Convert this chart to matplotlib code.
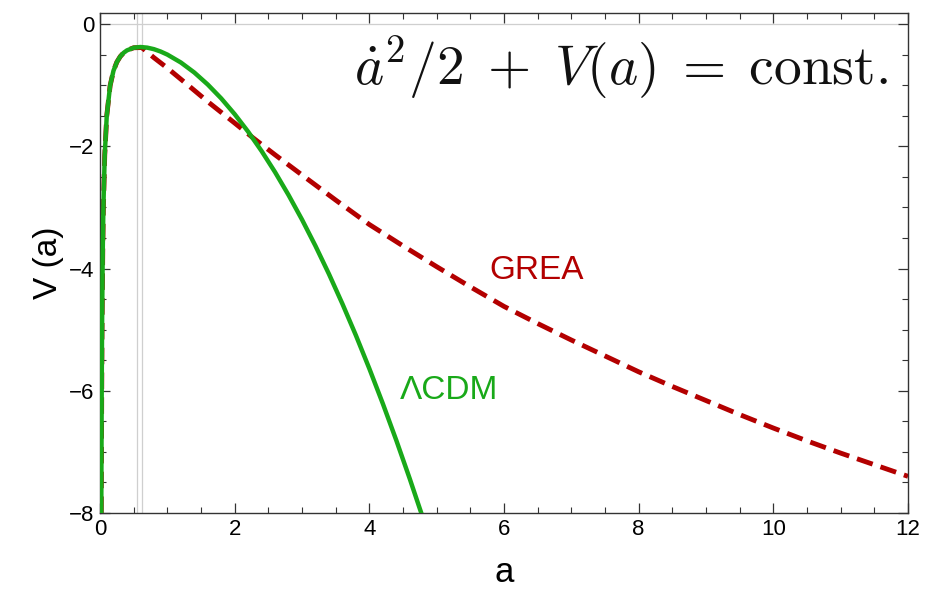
import numpy as np
import matplotlib
matplotlib.use("Agg")
import matplotlib.pyplot as plt
from matplotlib.ticker import MultipleLocator

plt.rcParams['font.family'] = ['Liberation Sans', 'DejaVu Sans']
plt.rcParams['mathtext.fontset'] = 'cm'

# potential V(a) for the two models
a_lcdm = [0.0188, 0.02, 0.025, 0.03, 0.04, 0.05, 0.07, 0.1, 0.15, 0.2, 0.25, 0.3,
          0.35, 0.4, 0.5, 0.6, 0.7, 0.8, 0.9, 1.0, 1.2, 1.4, 1.6, 1.8, 2.0, 2.2,
          2.4, 2.6, 2.8, 3.0, 3.2, 3.4, 3.6, 3.8, 4.0, 4.2, 4.4, 4.6, 4.8]
v_lcdm = [-8.0, -7.5, -6.0, -5.0, -3.75, -3.0, -2.145, -1.50, -1.008, -0.764,
          -0.622, -0.532, -0.471, -0.431, -0.388, -0.376, -0.386, -0.411, -0.450,
          -0.50, -0.629, -0.793, -0.990, -1.217, -1.475, -1.762, -2.079, -2.424,
          -2.798, -3.20, -3.631, -4.090, -4.578, -5.093, -5.638, -6.210, -6.810,
          -7.439, -8.095]

a_grea = [0.0188, 0.02, 0.025, 0.03, 0.04, 0.05, 0.07, 0.1, 0.15, 0.2, 0.25, 0.3,
          0.35, 0.4, 0.5, 0.62, 0.8, 1.0, 1.34, 1.6, 2.0, 2.27, 2.6, 3.0, 3.5,
          4.0, 4.5, 5.0, 5.5, 6.0, 6.5, 7.0, 7.5, 8.0, 8.5, 9.0, 9.5, 10.0, 10.5,
          11.0, 11.5, 12.0]
v_grea = [-8.0, -7.5, -6.0, -5.0, -3.75, -3.0, -2.145, -1.50, -1.008, -0.764,
          -0.622, -0.532, -0.471, -0.431, -0.388, -0.385, -0.55, -0.72, -1.03,
          -1.27, -1.62, -1.86, -2.14, -2.47, -2.88, -3.28, -3.63, -3.97, -4.30,
          -4.62, -4.90, -5.17, -5.43, -5.69, -5.93, -6.16, -6.39, -6.61, -6.82,
          -7.02, -7.21, -7.40]

fig = plt.figure(figsize=(9.27, 5.95), dpi=100)
ax = fig.add_axes([0.1079, 0.1378, 0.8716, 0.8403])

# thin reference lines
ax.axhline(0, color='#cfcfcf', lw=0.9, zorder=0)
ax.axvline(0.55, color='#cfcfcf', lw=0.9, zorder=0)
ax.axvline(0.62, color='#cfcfcf', lw=0.9, zorder=0)

ln, = ax.plot(a_grea, v_grea, color='#b30000', lw=3.5, zorder=2)
ln.set_dashes((3.4, 1.7))
ax.plot(a_lcdm, v_lcdm, color='#19a919', lw=3.2, zorder=3)

ax.set_xlim(0, 12)
ax.set_ylim(-8, 0.18)
ax.xaxis.set_major_locator(MultipleLocator(2))
ax.xaxis.set_minor_locator(MultipleLocator(0.5))
ax.yaxis.set_major_locator(MultipleLocator(2))
ax.yaxis.set_minor_locator(MultipleLocator(0.5))
ax.tick_params(which='both', direction='in', top=True, right=True,
               color='#333333', labelsize=16)
ax.tick_params(which='major', length=7, width=0.9, pad=4)
ax.tick_params(which='minor', length=4, width=0.8)
for s in ax.spines.values():
    s.set_color('#333333')
    s.set_linewidth(1.0)

ax.set_xlabel('a', fontsize=25, labelpad=12)
ax.set_ylabel('V (a)', fontsize=24, labelpad=4)

ax.text(5.79, -4.03, 'GREA', color='#b30000', fontsize=24, va='center', ha='left')
ax.text(4.46, -5.99, 'ΛCDM', color='#19a919', fontsize=24,
        va='center', ha='left')
ax.text(11.7, -0.72, r'$\dot{a}^2/2\;+\;V(a)\;=\;\mathrm{const.}$', fontsize=40,
        ha='right', va='center', color='#111111')

fig.savefig('out.png', dpi=100)
